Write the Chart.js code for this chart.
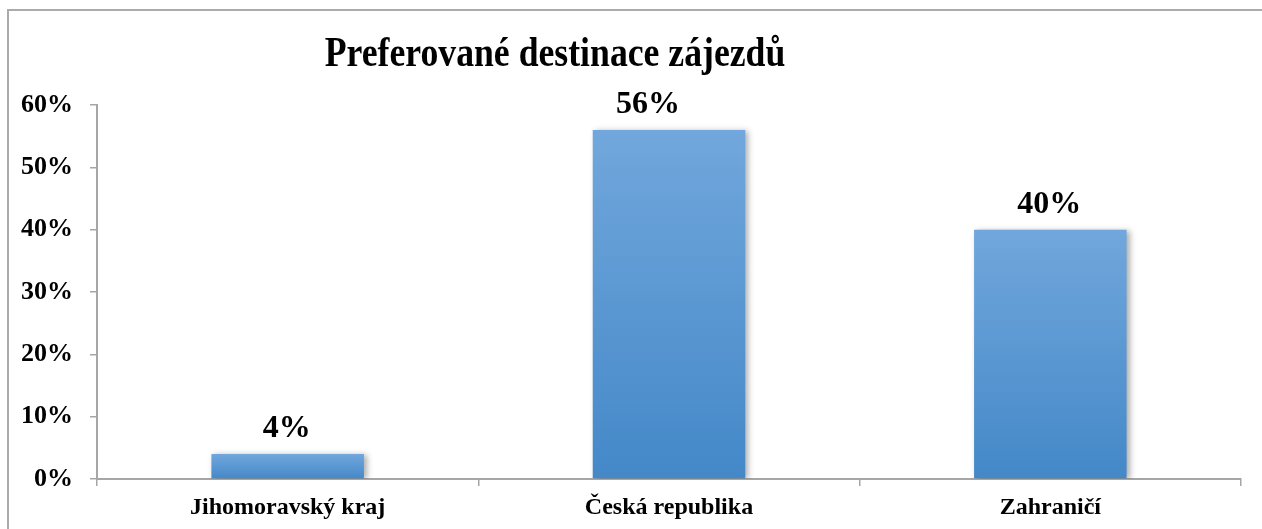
<!DOCTYPE html>
<html>
<head>
<meta charset="utf-8">
<script src="https://cdn.jsdelivr.net/npm/chart.js@4"></script>
<style>
html,body{margin:0;padding:0;background:#fff;overflow:hidden;}
#wrap{position:relative;width:1262px;height:529px;}
#frame{position:absolute;left:7px;top:9px;width:2000px;height:2000px;border:2px solid #ababab;box-sizing:border-box;}
canvas{position:absolute;left:0;top:0;}
</style>
</head>
<body>
<div id="wrap">
<div id="frame"></div>
<canvas id="c" width="1262" height="529"></canvas>
</div>
<script>
const titleText = 'Preferované destinace zájezdů';
const categories = ['Jihomoravský kraj', 'Česká republika', 'Zahraničí'];
const values = [4, 56, 40];
const yTicks = [0, 10, 20, 30, 40, 50, 60];

const FONT = '"Liberation Serif", "Times New Roman", serif';

const shadowPlugin = {
  id: 'barShadow',
  beforeDatasetsDraw(chart) {
    const c = chart.ctx;
    c.save();
    c.shadowColor = 'rgba(0,0,0,0.32)';
    c.shadowBlur = 6;
    c.shadowOffsetX = 3;
    c.shadowOffsetY = 1;
  },
  afterDatasetsDraw(chart) {
    chart.ctx.restore();
  }
};

const labelPlugin = {
  id: 'labelsAndTitle',
  afterDraw(chart, args, opts) {
    const c = chart.ctx;
    const meta = chart.getDatasetMeta(0);
    const nudge = opts.nudgeX || [];
    c.save();
    c.fillStyle = '#000';
    c.font = 'bold 32px ' + FONT;
    c.textAlign = 'center';
    c.textBaseline = 'alphabetic';
    meta.data.forEach((bar, i) => {
      c.fillText(values[i] + '%', bar.x - 1 + (nudge[i] || 0), bar.y - 17);
    });
    c.restore();
    c.save();
    c.fillStyle = '#000';
    c.font = 'bold 42px ' + FONT;
    c.textAlign = 'center';
    c.textBaseline = 'alphabetic';
    c.translate(555, 66);
    c.scale(0.85, 1);
    c.fillText(titleText, 0, 0);
    c.restore();
  }
};

new Chart(document.getElementById('c'), {
  type: 'bar',
  data: {
    labels: categories,
    datasets: [{
      data: values,
      backgroundColor: (ctx) => {
        const chart = ctx.chart;
        if (!chart.chartArea || ctx.raw === undefined) return '#5b9bd5';
        const ys = chart.scales.y;
        const top = ys.getPixelForValue(ctx.raw);
        const base = ys.getPixelForValue(0);
        const g = chart.ctx.createLinearGradient(0, top, 0, base);
        g.addColorStop(0, '#71a7dc');
        g.addColorStop(1, '#4488c8');
        return g;
      },
      borderWidth: 0,
      categoryPercentage: 1,
      barPercentage: 0.4
    }]
  },
  options: {
    responsive: false,
    animation: false,
    layout: { padding: { top: 105, right: 21, left: 0, bottom: 0 } },
    plugins: {
      legend: { display: false },
      title: { display: false },
      tooltip: { enabled: false },
      labelsAndTitle: { nudgeX: [0, -20, 0] }
    },
    scales: {
      x: {
        afterFit(s) { s.height = 50; },
        grid: { drawOnChartArea: false, drawTicks: true, tickLength: 7, color: '#a6a6a6', lineWidth: 1.5 },
        border: { color: '#a6a6a6', width: 2 },
        ticks: { color: '#000', padding: 7, font: { family: FONT, size: 24, weight: 'bold' } }
      },
      y: {
        min: 0, max: 60,
        afterFit(s) { s.width = 97; },
        afterBuildTicks(s) { s.ticks = yTicks.map(v => ({ value: v })); },
        grid: { drawOnChartArea: false, drawTicks: true, tickLength: 7, color: '#a6a6a6', lineWidth: 1.5 },
        border: { color: '#a6a6a6', width: 2 },
        ticks: { color: '#000', padding: 17, font: { family: FONT, size: 26, weight: 'bold' }, callback: v => v + '%' }
      }
    }
  },
  plugins: [shadowPlugin, labelPlugin]
});
</script>
</body>
</html>
